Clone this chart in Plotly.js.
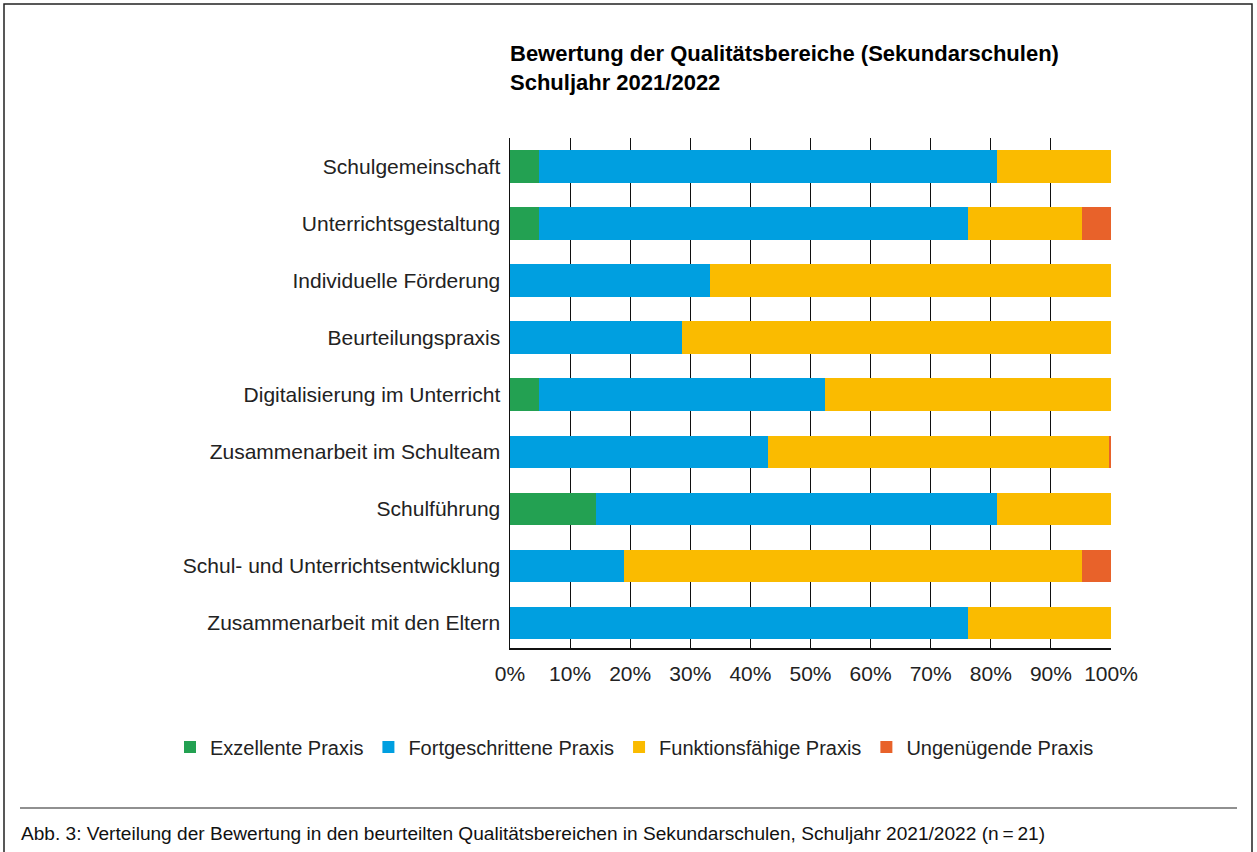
<!DOCTYPE html>
<html>
<head>
<meta charset="utf-8">
<script src="https://cdn.plot.ly/plotly-3.0.1.min.js"></script>
<style>
  html, body { margin: 0; padding: 0; background: #fff; }
  #chart { width: 1257px; height: 852px; }
</style>
</head>
<body>
<div id="chart"></div>
<script>
const categories = [
  "Schulgemeinschaft",
  "Unterrichtsgestaltung",
  "Individuelle Förderung",
  "Beurteilungspraxis",
  "Digitalisierung im Unterricht",
  "Zusammenarbeit im Schulteam",
  "Schulführung",
  "Schul- und Unterrichtsentwicklung",
  "Zusammenarbeit mit den Eltern"
];
const seriesNames = ["Exzellente Praxis", "Fortgeschrittene Praxis", "Funktionsfähige Praxis", "Ungenügende Praxis"];
const exzellent =      [4.76, 4.76, 0, 0, 4.76, 0, 14.29, 0, 0];
const fortgeschritten = [76.19, 71.43, 33.33, 28.57, 47.62, 42.86, 66.67, 19.05, 76.19];
const funktionsfaehig = [19.05, 19.05, 66.67, 71.43, 47.62, 56.76, 19.05, 76.19, 23.81];
const ungenuegend =     [0, 4.76, 0, 0, 0, 0.38, 0, 4.76, 0];
const xTickVals = [0, 10, 20, 30, 40, 50, 60, 70, 80, 90, 100];
const xTickText = ["0%", "10%", "20%", "30%", "40%", "50%", "60%", "70%", "80%", "90%", "100%"];
const titleText = "Bewertung der Qualitätsbereiche (Sekundarschulen)<br>Schuljahr 2021/2022";
const captionText = "Abb. 3: Verteilung der Bewertung in den beurteilten Qualitätsbereichen in Sekundarschulen, Schuljahr 2021/2022 (n\u2009=\u200921)";

const colors = ["#23a152", "#009fe0", "#fabb00", "#e8622a"];
const values = [exzellent, fortgeschritten, funktionsfaehig, ungenuegend];
const FONT = "Liberation Sans, Arial, Helvetica, sans-serif";

const traces = values.map((v, i) => ({
  type: "bar",
  orientation: "h",
  name: seriesNames[i],
  x: v,
  y: categories,
  marker: { color: colors[i], line: { width: 0 } },
  hoverinfo: "x+y+name"
}));

// pixel -> paper helpers (plot area 510..1111 x, 138..648 y)
const L = 510, R = 1111, T = 138, B = 648;
const px = p => (p - L) / (R - L);
const py = p => (B - p) / (B - T);

const layout = {
  width: 1257,
  height: 852,
  paper_bgcolor: "#ffffff",
  plot_bgcolor: "#ffffff",
  margin: { l: L, r: 1257 - R, t: T, b: 852 - B, pad: 0, autoexpand: false },
  barmode: "stack",
  bargap: 0.43,
  showlegend: true,
  font: { family: FONT, color: "#222", size: 21 },
  title: {
    text: titleText,
    font: { family: FONT, size: 22, color: "#000", weight: "bold" },
    x: L / 1257, xanchor: "left", xref: "container",
    y: 1 - 61 / 852, yanchor: "top", yref: "container"
  },
  xaxis: {
    range: [0, 100],
    tickvals: xTickVals,
    ticktext: xTickText,
    showgrid: true,
    gridcolor: "#111",
    gridwidth: 1,
    zeroline: false,
    showline: true,
    linecolor: "#111",
    linewidth: 1.5,
    ticks: "",
    ticklabelstandoff: 6,
    tickfont: { family: FONT, size: 21, color: "#222" },
    fixedrange: true
  },
  yaxis: {
    type: "category",
    range: [8.44, -0.5],
    showgrid: false,
    zeroline: false,
    showline: true,
    linecolor: "#111",
    linewidth: 1.5,
    ticks: "",
    ticklabelstandoff: 4,
    tickfont: { family: FONT, size: 21, color: "#222" },
    fixedrange: true
  },
  legend: {
    orientation: "h",
    xref: "paper",
    yref: "paper",
    x: px(170), xanchor: "left",
    y: py(747), yanchor: "middle",
    font: { family: FONT, size: 20, color: "#222" },
    traceorder: "normal",
    itemwidth: 30,
    bgcolor: "rgba(0,0,0,0)"
  },
  shapes: [
    { type: "rect", xref: "paper", yref: "paper",
      x0: px(4), x1: px(1252), y0: py(870), y1: py(4),
      line: { color: "#222", width: 1.5 }, fillcolor: "rgba(0,0,0,0)" },
    { type: "line", xref: "paper", yref: "paper",
      x0: px(20), x1: px(1237), y0: py(808), y1: py(808),
      line: { color: "#222", width: 1.2 } }
  ],
  annotations: [
    { text: captionText, xref: "paper", yref: "paper",
      x: px(19), xanchor: "left", y: py(833), yanchor: "middle",
      showarrow: false, font: { family: FONT, size: 19.1, color: "#111" } }
  ]
};

Plotly.newPlot("chart", traces, layout, { displayModeBar: false, staticPlot: true });
</script>
</body>
</html>
